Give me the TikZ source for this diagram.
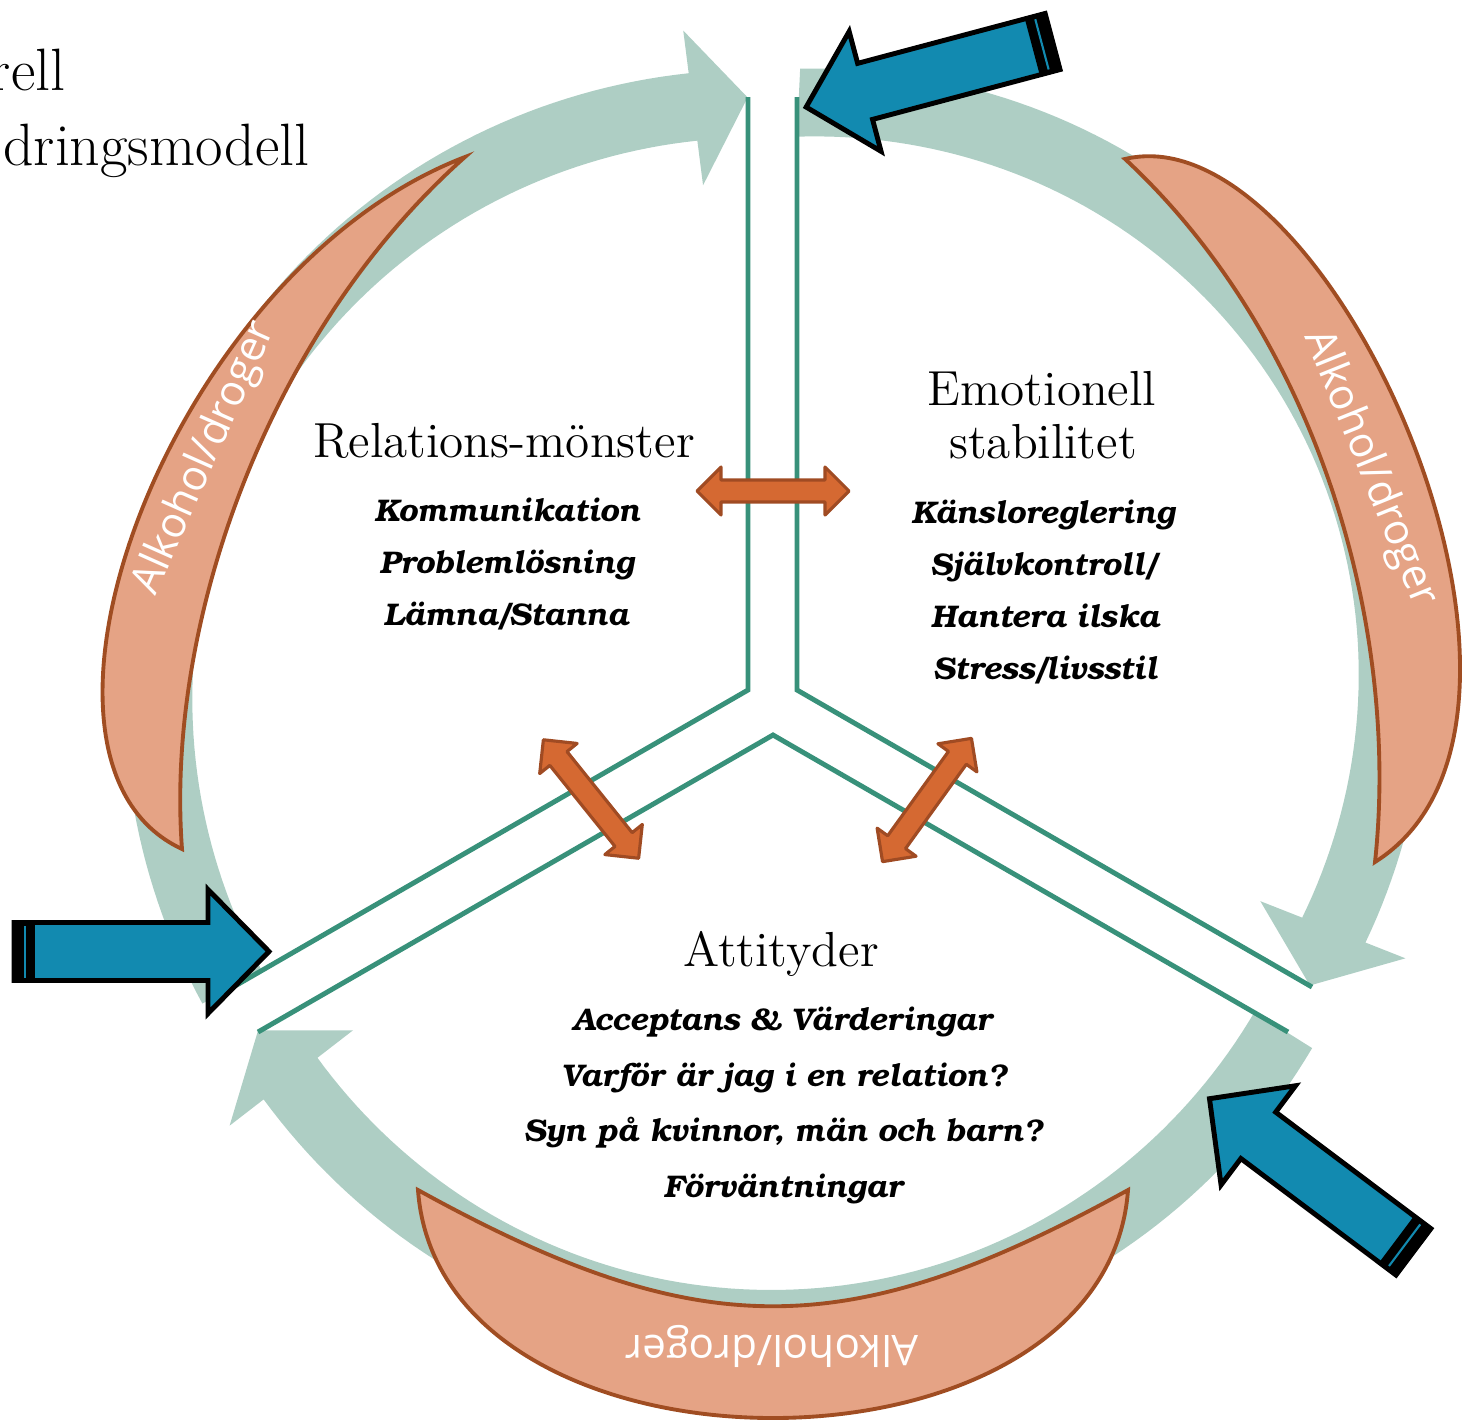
\documentclass[tikz,border=0pt]{standalone}
\usepackage{fontspec}
\newfontfamily\opensans{Open Sans}
\newfontface\bookbi{texgyrebonum-bolditalic}[Extension=.otf]
\usetikzlibrary{calc}

\definecolor{ringteal}{RGB}{174,206,196}
\definecolor{wallteal}{RGB}{56,145,122}
\definecolor{moonfill}{RGB}{229,163,133}
\definecolor{moonedge}{RGB}{160,77,34}
\definecolor{linkfill}{RGB}{213,105,50}
\definecolor{linkedge}{RGB}{160,75,35}
\definecolor{entryblue}{RGB}{18,138,176}

\tikzset{
  ringband/.style={fill=ringteal},
  wallline/.style={draw=wallteal, line width=1.4pt},
  moonshape/.style={fill=moonfill, draw=moonedge, line width=1.1pt},
  linkarrow/.style={fill=linkfill, draw=linkedge, line width=0.9pt, line join=round},
  entryarrow/.style={fill=entryblue, draw=black, line width=1.4pt, line join=miter},
  headtext/.style={font=\fontsize{14}{17}\selectfont},
  itemtext/.style={font=\bookbi\fontsize{8.9}{11}\selectfont},
  druglabel/.style={font=\opensans\fontsize{12}{14}\selectfont, text=white},
  titlefrag/.style={font=\fontsize{17}{20}\selectfont}
}

% two-way link arrow: centre x, centre y, angle
\newcommand{\twoway}[3]{%
  \begin{scope}[shift={(#1,#2)}, rotate=#3]
    \filldraw[linkarrow] (-76,0) -- (-52,24) -- (-52,11) -- (52,11) -- (52,24) -- (76,0)
      -- (52,-24) -- (52,-11) -- (-52,-11) -- (-52,-24) -- cycle;
  \end{scope}}

% block arrow with striped tail: tail x, tail y, angle
\newcommand{\inarrow}[3]{%
  \begin{scope}[shift={(#1,#2)}, rotate=#3]
    \filldraw[entryarrow] (2,29) -- (196,29) -- (196,62) -- (257,0) -- (196,-62) -- (196,-29) -- (2,-29) -- cycle;
    \fill[black] (0,-31) rectangle (23,31);
    \draw[entryblue, line width=0.6pt] (13,-26) -- (13,26);
  \end{scope}}

\begin{document}
\begin{tikzpicture}[x=0.01cm, y=0.01cm]
\useasboundingbox (0,0) rectangle (1464,-1421);
\coordinate (O) at (770,-708);

% cycle arrows
\fill[ringband] plot[domain=207.5:97.3, samples=90] ({770+(640+8*sin((207.5-\x)*1.6334))*cos(\x)}, {-708+(640+8*sin((207.5-\x)*1.6334))*sin(\x)})
  -- ($(O)+(97.3:683)$) -- ($(O)+(92.1:611)$) -- ($(O)+(97.3:527)$)
  -- plot[domain=97.3:207.5, samples=90] ({770+(572+8*sin((207.5-\x)*1.6334))*cos(\x)}, {-708+(572+8*sin((207.5-\x)*1.6334))*sin(\x)}) -- cycle;
\fill[ringband] plot[domain=87.3:-21.5, samples=90] ({770+(640+27*sin((87.3-\x)*1.6544))*cos(\x)}, {-708+(640+27*sin((87.3-\x)*1.6544))*sin(\x)})
  -- ($(O)+(-21.5:683)$) -- ($(O)+(-27.2:607)$) -- ($(O)+(-21.5:527)$)
  -- plot[domain=-21.5:87.3, samples=90] ({770+(572+27*sin((87.3-\x)*1.6544))*cos(\x)}, {-708+(572+27*sin((87.3-\x)*1.6544))*sin(\x)}) -- cycle;
\fill[ringband] plot[domain=-32.1:-142.3, samples=90] ({770+(640+10*sin((-32.1-\x)*1.6334))*cos(\x)}, {-708+(640+10*sin((-32.1-\x)*1.6334))*sin(\x)})
  -- ($(O)+(-142.3:683)$) -- ($(O)+(-147.8:605)$) -- ($(O)+(-142.3:527)$)
  -- plot[domain=-142.3:-32.1, samples=90] ({770+(572+10*sin((-32.1-\x)*1.6334))*cos(\x)}, {-708+(572+10*sin((-32.1-\x)*1.6334))*sin(\x)}) -- cycle;

% walls
\draw[wallline] (748,-97) -- (748,-690) -- (228,-990);
\draw[wallline] (797,-97) -- (797,-690) -- (1312,-987);
\draw[wallline] (258,-1032) -- (773,-735) -- (1288,-1032);

% crescents
\filldraw[moonshape] (465,-157) .. controls (170,-270) and (-10,-760) .. (182,-849)
  .. controls (165,-620) and (270,-330) .. (465,-157) -- cycle;
\filldraw[moonshape] (1125,-159) .. controls (1330,-110) and (1600,-720) .. (1375,-862)
  .. controls (1400,-630) and (1320,-340) .. (1125,-159) -- cycle;
\filldraw[moonshape] (418,-1190) .. controls (440,-1494) and (1106,-1494) .. (1128,-1190)
  .. controls (847,-1345) and (699,-1345) .. (418,-1190) -- cycle;

\node[druglabel, rotate=66] (drugLeft) at (205,-458) {Alkohol/droger};
\node[druglabel, rotate=-68] (drugRight) at (1370,-468) {Alkohol/droger};
\node[druglabel, rotate=180] (drugBottom) at (772,-1346) {Alkohol/droger};

% links between sectors
\twoway{773}{-491}{0}
\twoway{591}{-799}{-51.2}
\twoway{927}{-800}{54.2}

% entry arrows
\inarrow{12}{-951.5}{0}
\inarrow{1054.5}{-41}{194.9}
\inarrow{1415}{-1253}{143.1}

% title fragment
\node[titlefrag, anchor=base east, inner sep=0pt] (titleA) at (66,-90) {rell};
\node[titlefrag, anchor=base east, inner sep=0pt] (titleB) at (310,-165) {dringsmodell};

% sector texts
\node[headtext, anchor=base] (relHead) at (504,-457) {Relations-mönster};
\node[itemtext, anchor=base] (relA) at (507,-521) {Kommunikation};
\node[itemtext, anchor=base] (relB) at (507,-573) {Problemlösning};
\node[itemtext, anchor=base] (relC) at (506,-625) {Lämna/Stanna};

\node[headtext, anchor=base] (emoHeadA) at (1042,-405) {Emotionell};
\node[headtext, anchor=base] (emoHeadB) at (1043,-458) {stabilitet};
\node[itemtext, anchor=base] (emoA) at (1043,-523) {Känsloreglering};
\node[itemtext, anchor=base] (emoB) at (1043,-575) {Självkontroll/};
\node[itemtext, anchor=base] (emoC) at (1045,-627) {Hantera ilska};
\node[itemtext, anchor=base] (emoD) at (1045,-679) {Stress/livsstil};

\node[headtext, anchor=base] (attHead) at (781,-966) {Attityder};
\node[itemtext, anchor=base] (attA) at (782,-1030) {Acceptans \& Värderingar};
\node[itemtext, anchor=base] (attB) at (784,-1086) {Varför är jag i en relation?};
\node[itemtext, anchor=base] (attC) at (783,-1141) {Syn på kvinnor, män och barn?};
\node[itemtext, anchor=base] (attD) at (783,-1197) {Förväntningar};
\end{tikzpicture}
\end{document}
